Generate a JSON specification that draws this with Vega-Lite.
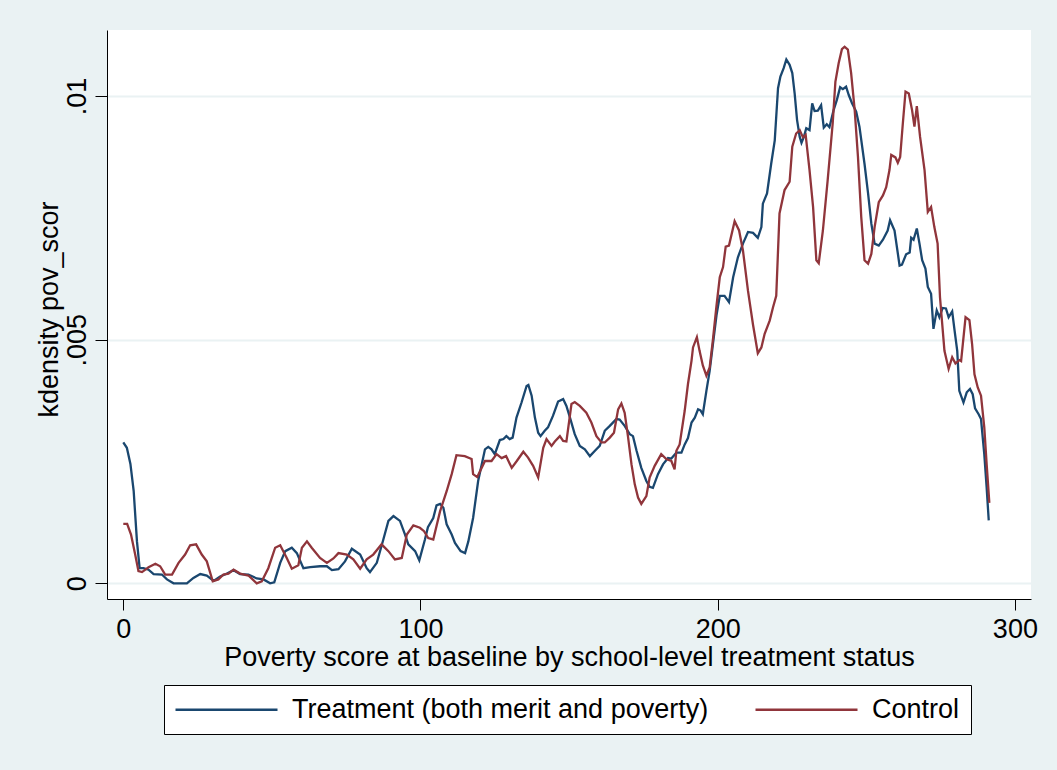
{
  "$schema": "https://vega.github.io/schema/vega-lite/v6.json",
  "autosize": "none",
  "width": 924,
  "height": 569,
  "padding": {"left": 107, "top": 30, "right": 26, "bottom": 171},
  "background": "#EAF2F3",
  "view": {"fill": "white", "stroke": null},
  "config": {
    "font": "Liberation Sans",
    "axis": {"labelFont": "Liberation Sans", "titleFont": "Liberation Sans", "labelColor": "black", "titleColor": "black", "titleFontWeight": "normal", "domainColor": "black", "tickColor": "black", "domainWidth": 1, "tickWidth": 1, "labelFontSize": 27, "titleFontSize": 27},
    "legend": {"labelFont": "Liberation Sans"}
  },
  "data": {"values": [
{"status":"Treatment","score":0,"density":0.00289},{"status":"Treatment","score":1.2,"density":0.00278},{"status":"Treatment","score":2.4,"density":0.00245},{"status":"Treatment","score":3.5,"density":0.00189},{"status":"Treatment","score":4.6,"density":0.00086},{"status":"Treatment","score":5.5,"density":0.00031},{"status":"Treatment","score":6.8,"density":0.00031},{"status":"Treatment","score":8.5,"density":0.00028},{"status":"Treatment","score":10.2,"density":0.00019},{"status":"Treatment","score":13,"density":0.00018},{"status":"Treatment","score":14.7,"density":0.00008},{"status":"Treatment","score":16.9,"density":0},{"status":"Treatment","score":21.4,"density":0},{"status":"Treatment","score":23.6,"density":0.00011},{"status":"Treatment","score":25.9,"density":0.00019},{"status":"Treatment","score":28.1,"density":0.00016},{"status":"Treatment","score":30.4,"density":0.00005},{"status":"Treatment","score":32.6,"density":0.00014},{"status":"Treatment","score":34.9,"density":0.0002},{"status":"Treatment","score":37.1,"density":0.00027},{"status":"Treatment","score":39.3,"density":0.00019},{"status":"Treatment","score":42.1,"density":0.00018},{"status":"Treatment","score":44.9,"density":0.0001},{"status":"Treatment","score":47.2,"density":0.00008},{"status":"Treatment","score":49.4,"density":0},{"status":"Treatment","score":50.8,"density":0.00002},{"status":"Treatment","score":52.8,"density":0.00042},{"status":"Treatment","score":54.5,"density":0.00066},{"status":"Treatment","score":56.7,"density":0.00073},{"status":"Treatment","score":58.4,"density":0.00062},{"status":"Treatment","score":60.6,"density":0.00031},{"status":"Treatment","score":62.9,"density":0.00033},{"status":"Treatment","score":66.2,"density":0.00035},{"status":"Treatment","score":68.5,"density":0.00035},{"status":"Treatment","score":70.2,"density":0.00027},{"status":"Treatment","score":72.4,"density":0.00029},{"status":"Treatment","score":74.6,"density":0.00045},{"status":"Treatment","score":76.9,"density":0.00071},{"status":"Treatment","score":79.7,"density":0.00059},{"status":"Treatment","score":81.9,"density":0.00031},{"status":"Treatment","score":83,"density":0.00023},{"status":"Treatment","score":85.3,"density":0.00042},{"status":"Treatment","score":87.5,"density":0.0009},{"status":"Treatment","score":89.2,"density":0.00128},{"status":"Treatment","score":90.9,"density":0.00138},{"status":"Treatment","score":93.1,"density":0.00128},{"status":"Treatment","score":94.8,"density":0.001},{"status":"Treatment","score":95.9,"density":0.0008},{"status":"Treatment","score":98.2,"density":0.00066},{"status":"Treatment","score":99.6,"density":0.00047},{"status":"Treatment","score":101.5,"density":0.0009},{"status":"Treatment","score":102.5,"density":0.00115},{"status":"Treatment","score":104.3,"density":0.00134},{"status":"Treatment","score":105.4,"density":0.0016},{"status":"Treatment","score":106.6,"density":0.00163},{"status":"Treatment","score":107.7,"density":0.00155},{"status":"Treatment","score":108.8,"density":0.00121},{"status":"Treatment","score":110.5,"density":0.001},{"status":"Treatment","score":111.6,"density":0.00083},{"status":"Treatment","score":113.5,"density":0.00066},{"status":"Treatment","score":115,"density":0.00062},{"status":"Treatment","score":116.1,"density":0.00086},{"status":"Treatment","score":117.7,"density":0.00134},{"status":"Treatment","score":119.4,"density":0.0021},{"status":"Treatment","score":121.7,"density":0.00275},{"status":"Treatment","score":122.8,"density":0.0028},{"status":"Treatment","score":123.9,"density":0.00275},{"status":"Treatment","score":125,"density":0.00265},{"status":"Treatment","score":126.7,"density":0.00294},{"status":"Treatment","score":127.9,"density":0.00296},{"status":"Treatment","score":128.9,"density":0.00302},{"status":"Treatment","score":130,"density":0.00296},{"status":"Treatment","score":131,"density":0.00299},{"status":"Treatment","score":132.3,"density":0.0034},{"status":"Treatment","score":134,"density":0.00371},{"status":"Treatment","score":135.7,"density":0.00405},{"status":"Treatment","score":136.3,"density":0.00407},{"status":"Treatment","score":137.4,"density":0.00385},{"status":"Treatment","score":138.5,"density":0.0034},{"status":"Treatment","score":139.6,"density":0.00309},{"status":"Treatment","score":140.4,"density":0.00302},{"status":"Treatment","score":141.8,"density":0.00313},{"status":"Treatment","score":142.9,"density":0.0032},{"status":"Treatment","score":144.6,"density":0.00344},{"status":"Treatment","score":146.3,"density":0.00373},{"status":"Treatment","score":148,"density":0.00378},{"status":"Treatment","score":149.1,"density":0.00364},{"status":"Treatment","score":150.3,"density":0.0034},{"status":"Treatment","score":151.9,"density":0.00306},{"status":"Treatment","score":153.6,"density":0.00282},{"status":"Treatment","score":155.3,"density":0.00275},{"status":"Treatment","score":157,"density":0.00261},{"status":"Treatment","score":158.7,"density":0.00272},{"status":"Treatment","score":160.3,"density":0.00282},{"status":"Treatment","score":162,"density":0.00313},{"status":"Treatment","score":163.7,"density":0.00323},{"status":"Treatment","score":165.9,"density":0.00337},{"status":"Treatment","score":167,"density":0.00336},{"status":"Treatment","score":168.7,"density":0.00323},{"status":"Treatment","score":170.4,"density":0.00306},{"status":"Treatment","score":171.5,"density":0.00302},{"status":"Treatment","score":172.7,"density":0.00272},{"status":"Treatment","score":174.3,"density":0.00237},{"status":"Treatment","score":176,"density":0.0021},{"status":"Treatment","score":177.1,"density":0.00198},{"status":"Treatment","score":178.2,"density":0.00196},{"status":"Treatment","score":179.9,"density":0.00224},{"status":"Treatment","score":181.6,"density":0.00244},{"status":"Treatment","score":183.3,"density":0.00257},{"status":"Treatment","score":184.4,"density":0.00256},{"status":"Treatment","score":186.1,"density":0.00268},{"status":"Treatment","score":187.8,"density":0.00268},{"status":"Treatment","score":188.9,"density":0.00285},{"status":"Treatment","score":190,"density":0.00298},{"status":"Treatment","score":191.2,"density":0.0033},{"status":"Treatment","score":192.3,"density":0.0034},{"status":"Treatment","score":193.4,"density":0.00357},{"status":"Treatment","score":194.2,"density":0.00355},{"status":"Treatment","score":195,"density":0.00347},{"status":"Treatment","score":196.2,"density":0.00395},{"status":"Treatment","score":197.3,"density":0.00436},{"status":"Treatment","score":198.4,"density":0.00491},{"status":"Treatment","score":199.6,"density":0.0055},{"status":"Treatment","score":200.7,"density":0.0059},{"status":"Treatment","score":202.3,"density":0.0059},{"status":"Treatment","score":203.8,"density":0.00577},{"status":"Treatment","score":205.2,"density":0.00628},{"status":"Treatment","score":206.8,"density":0.00669},{"status":"Treatment","score":208.5,"density":0.00697},{"status":"Treatment","score":210.2,"density":0.00721},{"status":"Treatment","score":211.9,"density":0.00719},{"status":"Treatment","score":213.5,"density":0.00709},{"status":"Treatment","score":214.7,"density":0.00731},{"status":"Treatment","score":215.2,"density":0.00779},{"status":"Treatment","score":216.6,"density":0.008},{"status":"Treatment","score":218,"density":0.00861},{"status":"Treatment","score":219.2,"density":0.00909},{"status":"Treatment","score":220.3,"density":0.01016},{"status":"Treatment","score":221.1,"density":0.0104},{"status":"Treatment","score":222.2,"density":0.01057},{"status":"Treatment","score":223.1,"density":0.01075},{"status":"Treatment","score":224.2,"density":0.01064},{"status":"Treatment","score":225.1,"density":0.01047},{"status":"Treatment","score":225.9,"density":0.01005},{"status":"Treatment","score":226.7,"density":0.00951},{"status":"Treatment","score":227.6,"density":0.00916},{"status":"Treatment","score":228.2,"density":0.00904},{"status":"Treatment","score":229,"density":0.00916},{"status":"Treatment","score":229.8,"density":0.00934},{"status":"Treatment","score":230.9,"density":0.0093},{"status":"Treatment","score":231.8,"density":0.00985},{"status":"Treatment","score":232.6,"density":0.00969},{"status":"Treatment","score":233.7,"density":0.0097},{"status":"Treatment","score":234.8,"density":0.00981},{"status":"Treatment","score":235.7,"density":0.00935},{"status":"Treatment","score":236.7,"density":0.00942},{"status":"Treatment","score":237.6,"density":0.00936},{"status":"Treatment","score":239,"density":0.00971},{"status":"Treatment","score":240.1,"density":0.00992},{"status":"Treatment","score":241.2,"density":0.01018},{"status":"Treatment","score":242.1,"density":0.01014},{"status":"Treatment","score":243.2,"density":0.01019},{"status":"Treatment","score":244.1,"density":0.01002},{"status":"Treatment","score":245.2,"density":0.00985},{"status":"Treatment","score":246.6,"density":0.00968},{"status":"Treatment","score":247.7,"density":0.00937},{"status":"Treatment","score":249.4,"density":0.00861},{"status":"Treatment","score":250.6,"density":0.008},{"status":"Treatment","score":251.7,"density":0.00738},{"status":"Treatment","score":252.8,"density":0.00697},{"status":"Treatment","score":254.2,"density":0.00693},{"status":"Treatment","score":255.6,"density":0.00705},{"status":"Treatment","score":257.2,"density":0.00724},{"status":"Treatment","score":258,"density":0.00745},{"status":"Treatment","score":259.5,"density":0.00724},{"status":"Treatment","score":261.2,"density":0.00652},{"status":"Treatment","score":262,"density":0.00654},{"status":"Treatment","score":263.4,"density":0.00675},{"status":"Treatment","score":264.6,"density":0.00679},{"status":"Treatment","score":265.1,"density":0.00709},{"status":"Treatment","score":265.9,"density":0.00705},{"status":"Treatment","score":267,"density":0.00728},{"status":"Treatment","score":267.9,"density":0.00697},{"status":"Treatment","score":268.8,"density":0.00663},{"status":"Treatment","score":269.9,"density":0.00646},{"status":"Treatment","score":270.7,"density":0.00608},{"status":"Treatment","score":271.8,"density":0.00594},{"status":"Treatment","score":272.6,"density":0.00522},{"status":"Treatment","score":273.7,"density":0.0056},{"status":"Treatment","score":274.6,"density":0.00546},{"status":"Treatment","score":275.7,"density":0.00565},{"status":"Treatment","score":276.8,"density":0.00564},{"status":"Treatment","score":277.7,"density":0.00546},{"status":"Treatment","score":278.9,"density":0.00558},{"status":"Treatment","score":279.7,"density":0.00519},{"status":"Treatment","score":280.6,"density":0.00477},{"status":"Treatment","score":281.3,"density":0.00395},{"status":"Treatment","score":282.7,"density":0.00371},{"status":"Treatment","score":283.8,"density":0.00392},{"status":"Treatment","score":284.9,"density":0.00399},{"status":"Treatment","score":285.8,"density":0.00388},{"status":"Treatment","score":286.6,"density":0.00359},{"status":"Treatment","score":287.8,"density":0.00347},{"status":"Treatment","score":288.6,"density":0.00337},{"status":"Treatment","score":289.7,"density":0.00265},{"status":"Treatment","score":290.5,"density":0.00196},{"status":"Treatment","score":291.2,"density":0.00129},
{"status":"Control","score":0,"density":0.00122},{"status":"Control","score":1.3,"density":0.00122},{"status":"Control","score":2.6,"density":0.001},{"status":"Control","score":4.0,"density":0.00059},{"status":"Control","score":5.1,"density":0.00025},{"status":"Control","score":6.3,"density":0.00023},{"status":"Control","score":8.5,"density":0.00033},{"status":"Control","score":10.8,"density":0.0004},{"status":"Control","score":12.4,"density":0.00035},{"status":"Control","score":14.1,"density":0.00018},{"status":"Control","score":16.4,"density":0.00018},{"status":"Control","score":18.6,"density":0.00042},{"status":"Control","score":20.8,"density":0.00059},{"status":"Control","score":22.5,"density":0.00078},{"status":"Control","score":24.5,"density":0.0008},{"status":"Control","score":26.4,"density":0.00059},{"status":"Control","score":28.1,"density":0.00045},{"status":"Control","score":30.1,"density":0.00004},{"status":"Control","score":32,"density":0.00008},{"status":"Control","score":33.7,"density":0.00018},{"status":"Control","score":35.4,"density":0.0002},{"status":"Control","score":37.1,"density":0.00028},{"status":"Control","score":39.3,"density":0.0002},{"status":"Control","score":42.1,"density":0.00016},{"status":"Control","score":44.9,"density":0},{"status":"Control","score":46.6,"density":0.00004},{"status":"Control","score":48.8,"density":0.00031},{"status":"Control","score":51.1,"density":0.00073},{"status":"Control","score":52.8,"density":0.00078},{"status":"Control","score":55,"density":0.00052},{"status":"Control","score":56.7,"density":0.0003},{"status":"Control","score":58.9,"density":0.00037},{"status":"Control","score":60.1,"density":0.00073},{"status":"Control","score":61.8,"density":0.00086},{"status":"Control","score":63.4,"density":0.00073},{"status":"Control","score":66.2,"density":0.00052},{"status":"Control","score":68.5,"density":0.00042},{"status":"Control","score":70.7,"density":0.00051},{"status":"Control","score":72.4,"density":0.00062},{"status":"Control","score":75.2,"density":0.00059},{"status":"Control","score":77.4,"density":0.00049},{"status":"Control","score":79.7,"density":0.0003},{"status":"Control","score":81.9,"density":0.00049},{"status":"Control","score":84.1,"density":0.00059},{"status":"Control","score":86.9,"density":0.0008},{"status":"Control","score":89.2,"density":0.00066},{"status":"Control","score":91.4,"density":0.00049},{"status":"Control","score":93.7,"density":0.00052},{"status":"Control","score":95.4,"density":0.001},{"status":"Control","score":97.6,"density":0.00119},{"status":"Control","score":99.8,"density":0.00114},{"status":"Control","score":101.2,"density":0.00107},{"status":"Control","score":102.6,"density":0.00093},{"status":"Control","score":104.3,"density":0.0009},{"status":"Control","score":106.6,"density":0.00148},{"status":"Control","score":108.8,"density":0.00189},{"status":"Control","score":110.5,"density":0.00224},{"status":"Control","score":112.1,"density":0.00263},{"status":"Control","score":114.9,"density":0.00261},{"status":"Control","score":117.2,"density":0.00255},{"status":"Control","score":117.7,"density":0.00224},{"status":"Control","score":119.1,"density":0.00218},{"status":"Control","score":121.7,"density":0.00251},{"status":"Control","score":123.9,"density":0.00251},{"status":"Control","score":125.6,"density":0.00265},{"status":"Control","score":127.3,"density":0.00257},{"status":"Control","score":128.8,"density":0.00261},{"status":"Control","score":130.7,"density":0.00237},{"status":"Control","score":132.4,"density":0.00251},{"status":"Control","score":134.6,"density":0.0027},{"status":"Control","score":136.2,"density":0.00258},{"status":"Control","score":137.9,"density":0.00241},{"status":"Control","score":139.6,"density":0.00217},{"status":"Control","score":141.3,"density":0.00278},{"status":"Control","score":142.4,"density":0.00296},{"status":"Control","score":144.1,"density":0.00282},{"status":"Control","score":145.2,"density":0.00291},{"status":"Control","score":146.9,"density":0.00302},{"status":"Control","score":148,"density":0.00292},{"status":"Control","score":149.1,"density":0.00291},{"status":"Control","score":150.8,"density":0.00368},{"status":"Control","score":151.9,"density":0.00372},{"status":"Control","score":153.6,"density":0.00364},{"status":"Control","score":155.8,"density":0.0035},{"status":"Control","score":157.5,"density":0.0033},{"status":"Control","score":159.2,"density":0.00302},{"status":"Control","score":160.9,"density":0.00289},{"status":"Control","score":162,"density":0.00289},{"status":"Control","score":163.7,"density":0.00299},{"status":"Control","score":165.1,"density":0.00309},{"status":"Control","score":166.5,"density":0.00357},{"status":"Control","score":167.6,"density":0.00369},{"status":"Control","score":168.7,"density":0.0035},{"status":"Control","score":169.8,"density":0.00302},{"status":"Control","score":171,"density":0.00244},{"status":"Control","score":172.1,"density":0.00203},{"status":"Control","score":173.2,"density":0.00176},{"status":"Control","score":174.3,"density":0.00163},{"status":"Control","score":176,"density":0.00179},{"status":"Control","score":177.1,"density":0.00217},{"status":"Control","score":178.8,"density":0.00241},{"status":"Control","score":181,"density":0.00265},{"status":"Control","score":182.7,"density":0.00255},{"status":"Control","score":184.4,"density":0.00251},{"status":"Control","score":185.5,"density":0.00234},{"status":"Control","score":186.1,"density":0.00272},{"status":"Control","score":187.2,"density":0.00285},{"status":"Control","score":188.9,"density":0.00354},{"status":"Control","score":190,"density":0.00409},{"status":"Control","score":191.2,"density":0.00457},{"status":"Control","score":191.7,"density":0.00484},{"status":"Control","score":193,"density":0.00505},{"status":"Control","score":193.9,"density":0.00477},{"status":"Control","score":195,"density":0.00447},{"status":"Control","score":196.2,"density":0.00426},{"status":"Control","score":197.3,"density":0.00443},{"status":"Control","score":198.4,"density":0.005},{"status":"Control","score":199.6,"density":0.0057},{"status":"Control","score":200.7,"density":0.00628},{"status":"Control","score":201.8,"density":0.00649},{"status":"Control","score":202.7,"density":0.00691},{"status":"Control","score":203.8,"density":0.00693},{"status":"Control","score":205.7,"density":0.00743},{"status":"Control","score":207.2,"density":0.00724},{"status":"Control","score":208.5,"density":0.00683},{"status":"Control","score":210.2,"density":0.006},{"status":"Control","score":211.9,"density":0.0053},{"status":"Control","score":213.5,"density":0.00472},{"status":"Control","score":214.7,"density":0.00484},{"status":"Control","score":215.8,"density":0.00512},{"status":"Control","score":217.5,"density":0.00539},{"status":"Control","score":218.6,"density":0.00566},{"status":"Control","score":219.7,"density":0.0059},{"status":"Control","score":220.8,"density":0.00759},{"status":"Control","score":222.5,"density":0.00807},{"status":"Control","score":224.2,"density":0.00824},{"status":"Control","score":225.1,"density":0.00896},{"status":"Control","score":226.4,"density":0.00923},{"status":"Control","score":227.6,"density":0.0093},{"status":"Control","score":228.7,"density":0.00915},{"status":"Control","score":229.6,"density":0.0092},{"status":"Control","score":230.9,"density":0.00848},{"status":"Control","score":232.1,"density":0.00772},{"status":"Control","score":233.2,"density":0.00663},{"status":"Control","score":234,"density":0.00657},{"status":"Control","score":235.4,"density":0.00724},{"status":"Control","score":237,"density":0.00827},{"status":"Control","score":238.7,"density":0.00944},{"status":"Control","score":239.6,"density":0.01029},{"status":"Control","score":240.7,"density":0.01067},{"status":"Control","score":241.8,"density":0.01096},{"status":"Control","score":242.7,"density":0.01101},{"status":"Control","score":243.8,"density":0.01095},{"status":"Control","score":244.9,"density":0.01047},{"status":"Control","score":246.1,"density":0.00971},{"status":"Control","score":247.2,"density":0.00875},{"status":"Control","score":248.3,"density":0.00752},{"status":"Control","score":249.4,"density":0.00663},{"status":"Control","score":250.6,"density":0.00656},{"status":"Control","score":251.7,"density":0.00676},{"status":"Control","score":252.8,"density":0.00731},{"status":"Control","score":254.2,"density":0.00782},{"status":"Control","score":255.6,"density":0.00796},{"status":"Control","score":256.7,"density":0.00813},{"status":"Control","score":257.8,"density":0.00848},{"status":"Control","score":258.4,"density":0.00879},{"status":"Control","score":259.8,"density":0.00874},{"status":"Control","score":260.6,"density":0.00863},{"status":"Control","score":261.4,"density":0.00875},{"status":"Control","score":262.3,"density":0.00944},{"status":"Control","score":263.2,"density":0.01009},{"status":"Control","score":264.3,"density":0.01005},{"status":"Control","score":265.4,"density":0.00971},{"status":"Control","score":266.2,"density":0.00937},{"status":"Control","score":267,"density":0.00979},{"status":"Control","score":268.1,"density":0.00916},{"status":"Control","score":269.6,"density":0.00848},{"status":"Control","score":270.7,"density":0.00762},{"status":"Control","score":271.8,"density":0.00772},{"status":"Control","score":272.9,"density":0.00731},{"status":"Control","score":274,"density":0.00697},{"status":"Control","score":274.8,"density":0.00587},{"status":"Control","score":276.3,"density":0.00477},{"status":"Control","score":277.7,"density":0.0044},{"status":"Control","score":278.9,"density":0.00464},{"status":"Control","score":280,"density":0.00451},{"status":"Control","score":281.3,"density":0.00458},{"status":"Control","score":281.9,"density":0.00456},{"status":"Control","score":283.4,"density":0.00546},{"status":"Control","score":284.7,"density":0.0054},{"status":"Control","score":285.6,"density":0.00491},{"status":"Control","score":286.4,"density":0.00429},{"status":"Control","score":287.5,"density":0.00402},{"status":"Control","score":288.6,"density":0.00385},{"status":"Control","score":289.7,"density":0.0032},{"status":"Control","score":290.5,"density":0.00244},{"status":"Control","score":291.4,"density":0.00165}
  ]},
  "mark": {"type": "line", "strokeWidth": 2.3},
  "encoding": {
    "x": {
      "field": "score", "type": "quantitative",
      "scale": {"domain": [-5.48, 305.42], "nice": false, "zero": false},
      "axis": {"values": [0, 100, 200, 300], "grid": false, "tickSize": 11, "labelPadding": 6, "labelFlush": false, "labelOverlap": false, "title": "Poverty score at baseline by school-level treatment status", "titleY": 66, "titleBaseline": "alphabetic"}
    },
    "y": {
      "field": "density", "type": "quantitative",
      "scale": {"domain": [-0.000322, 0.011354], "nice": false, "zero": false},
      "axis": {"values": [0, 0.005, 0.01], "grid": true, "gridColor": "#EAF2F3", "gridWidth": 2, "tickSize": 12, "labelAngle": -90, "labelAlign": "center", "labelBaseline": "alphabetic", "labelPadding": 10, "labelFlush": false, "labelOverlap": false, "labelExpr": "datum.value == 0 ? '0' : replace(format(datum.value, '.3~f'), '0.', '.')", "title": "kdensity pov_scor", "titleAngle": -90, "titleX": -50, "titleY": 279, "titleAlign": "center", "titleBaseline": "alphabetic"}
    },
    "color": {
      "field": "status", "type": "nominal",
      "scale": {"domain": ["Treatment", "Control"], "range": ["#1A476F", "#90353B"]},
      "legend": {"orient": "none", "legendX": 57, "legendY": 655, "direction": "horizontal", "title": null, "fillColor": "white", "strokeColor": "black", "padding": 11, "symbolType": "M-1.3,0H8.9", "symbolSize": 400, "symbolStrokeWidth": 2.3, "symbolOffset": 0, "labelFontSize": 27, "labelColor": "black", "labelLimit": 0, "labelOffset": 90, "columnPadding": 41, "labelExpr": "datum.label == 'Treatment' ? 'Treatment (both merit and poverty)' : datum.label"}
    }
  }
}
